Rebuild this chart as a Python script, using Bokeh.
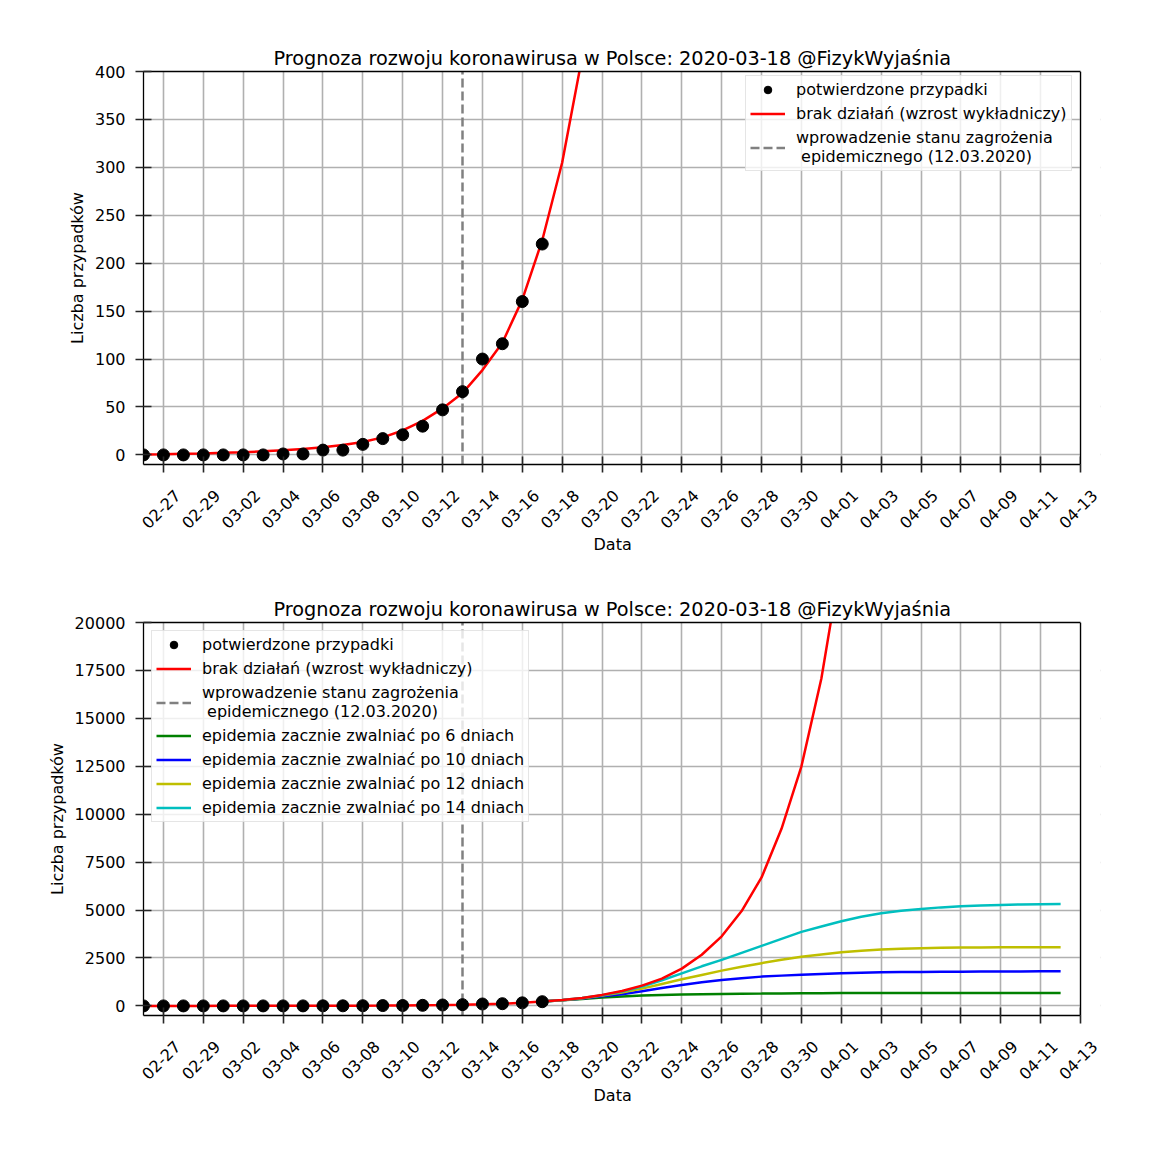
import math
import pandas as pd
from bokeh.plotting import figure
from bokeh.models import (Range1d, FixedTicker, CustomJSTickFormatter, DatetimeAxis,
                          DatetimeTickFormatter, Legend, LegendItem, Span, BoxAnnotation,
                          Title)
from bokeh.layouts import column
from bokeh.embed import file_html
from bokeh.resources import INLINE

TITLE = "Prognoza rozwoju koronawirusa w Polsce: 2020-03-18 @FizykWyjaśnia"
FONT = "DejaVu Sans"

# potwierdzone przypadki, codziennie od 02-26 do 03-17
confirmed_start, confirmed_end = "2020-02-26", "2020-03-17"
confirmed = [0, 0, 0, 0, 0, 0, 0, 1, 1, 5, 5, 11, 17, 21, 30, 47, 66, 100, 116, 160, 220]

# brak działań (wzrost wykładniczy), codziennie od 02-26 do 04-01
exp_start, exp_end = "2020-02-26", "2020-04-01"
exponential = [0.5, 0.8, 1.2, 1.6, 2.2, 2.9, 3.7, 4.8, 6.2, 8.0, 10.3, 13.5, 18.3, 25.5,
               35.5, 48.5, 64.5, 88.5, 117, 162, 224, 305, 415, 575, 780, 1060, 1424,
               1944, 2670, 3630, 4950, 6700, 9240, 12500, 17080, 23300]

# prognozy ze spowolnieniem, codziennie od 03-17 do 04-12
proj_start, proj_end = "2020-03-17", "2020-04-12"
slow_6 = [224, 290, 365, 434, 486, 538, 573, 590, 608, 625, 634, 642, 652, 660, 666,
          670, 673, 675, 677, 678, 678, 679, 679, 679, 680, 680, 680]
slow_10 = [224, 297, 385, 503, 608, 764, 937, 1094, 1233, 1354, 1441, 1528, 1580, 1630,
           1670, 1705, 1730, 1750, 1763, 1774, 1782, 1788, 1793, 1797, 1800, 1802, 1804]
slow_12 = [224, 300, 400, 538, 694, 903, 1146, 1389, 1615, 1840, 2040, 2230, 2410, 2560,
           2680, 2800, 2880, 2940, 2980, 3010, 3030, 3043, 3050, 3055, 3058, 3060, 3062]
slow_14 = [224, 303, 410, 556, 747, 1007, 1337, 1701, 2066, 2400, 2770, 3130, 3500, 3860,
           4140, 4420, 4650, 4830, 4960, 5060, 5140, 5200, 5240, 5270, 5290, 5305, 5315]

lockdown_date = "2020-03-13"
x_start, x_end = "2020-02-26", "2020-04-13"
tick_start = "2020-02-27"

top_yticks = list(range(0, 401, 50))
bottom_yticks = list(range(0, 20001, 2500))

slow_series = [
    (slow_6, "#008000", "epidemia zacznie zwalniać po 6 dniach"),
    (slow_10, "#0000ff", "epidemia zacznie zwalniać po 10 dniach"),
    (slow_12, "#bfbf00", "epidemia zacznie zwalniać po 12 dniach"),
    (slow_14, "#00bfbf", "epidemia zacznie zwalniać po 14 dniach"),
]

DAY_MS = 86400000
PX_PER_DAY = 937 / 47


def ms(d):
    return pd.Timestamp(d).timestamp() * 1000


def style_axis(ax):
    ax.major_label_text_font = FONT
    ax.major_label_text_font_size = "16px"
    ax.major_label_text_color = "black"
    ax.axis_label_text_font = FONT
    ax.axis_label_text_font_size = "16px"
    ax.axis_label_text_font_style = "normal"
    ax.axis_label_text_color = "black"
    ax.major_tick_in = 8
    ax.major_tick_out = 8
    ax.major_tick_line_width = 1.6
    ax.major_tick_line_color = "#262626"
    ax.minor_tick_line_color = None
    ax.axis_line_width = 1.3


def make_plot(y0, y1, yticks, legend_loc, with_projections, border_top, border_bottom):
    # ramka poszerzona o jeden dzień w prawo, by zmieściła się etykieta ostatniej
    # podziałki; nadmiar zakrywa biały prostokąt, a prawą krawędź rysuje Span
    x0, x1 = ms(x_start), ms(x_end)
    p = figure(x_axis_type="datetime", frame_width=round(48 * PX_PER_DAY), frame_height=393,
               min_border_left=143, min_border_right=25, min_border_top=border_top,
               min_border_bottom=border_bottom, toolbar_location=None,
               output_backend="svg",
               x_range=Range1d(x0, x1 + DAY_MS), y_range=Range1d(y0, y1))

    p.title.text = TITLE
    p.title.align = "left"
    p.title.offset = 130
    p.title.text_font = FONT
    p.title.text_font_size = "19.3px"
    p.title.text_font_style = "normal"
    p.title.text_color = "black"
    p.title.standoff = 4

    tick_dates = pd.date_range(tick_start, x_end, freq="2D")
    tick_ms = [ms(d) for d in tick_dates]
    p.xaxis.ticker = FixedTicker(ticks=tick_ms)
    p.xaxis.formatter = CustomJSTickFormatter(code="return ''")
    p.xaxis.major_label_standoff = 0
    p.xaxis.bounds = (x0, x1)
    p.yaxis.ticker = FixedTicker(ticks=yticks)
    style_axis(p.xaxis[0])
    style_axis(p.yaxis[0])
    p.yaxis.major_label_standoff = 10
    p.yaxis.axis_label = "Liczba przypadków"

    # obrócone etykiety dat: osobna oś przesunięta tak, by etykieta była pod podziałką
    shift = 0.7 * DAY_MS
    p.extra_x_ranges = {"labels": Range1d(x0 - shift, x1 + DAY_MS - shift)}
    lab_axis = DatetimeAxis(x_range_name="labels", ticker=FixedTicker(ticks=tick_ms),
                            formatter=DatetimeTickFormatter(days="%m-%d", months="%m-%d",
                                                            hours="%m-%d"))
    style_axis(lab_axis)
    lab_axis.axis_line_color = None
    lab_axis.major_tick_line_color = None
    lab_axis.major_tick_in = 0
    lab_axis.major_tick_out = 0
    lab_axis.major_label_standoff = 20
    lab_axis.major_label_orientation = math.pi / 4
    p.add_layout(lab_axis, "below")

    # podpis osi X wyśrodkowany pod właściwą ramką
    p.add_layout(Title(text="Data", align="left", offset=450, standoff=-7,
                       text_font=FONT, text_font_size="16px", text_font_style="normal",
                       text_color="black"), "below")

    # górna krawędź ramki
    top_axis = DatetimeAxis(ticker=FixedTicker(ticks=[]), bounds=(x0, x1),
                            formatter=CustomJSTickFormatter(code="return ''"))
    top_axis.axis_line_width = 1.3
    top_axis.major_tick_line_color = None
    top_axis.minor_tick_line_color = None
    top_axis.major_tick_in = 0
    top_axis.major_tick_out = 0
    top_axis.major_label_standoff = 0
    p.add_layout(top_axis, "above")

    p.grid.grid_line_color = "#b0b0b0"
    p.grid.grid_line_width = 1.6
    p.outline_line_color = None

    proj_renderers = []
    if with_projections:
        proj_dates = pd.date_range(proj_start, proj_end)
        for vals, col, lab in slow_series:
            r = p.line(proj_dates, vals, line_color=col, line_width=2.5)
            proj_renderers.append((r, lab))

    r_exp = p.line(pd.date_range(exp_start, exp_end), exponential,
                   line_color="#ff0000", line_width=2.5)

    lock = pd.Timestamp(lockdown_date)
    r_dash = p.line([lock, lock], [y0, y1], line_color="#808080", line_width=2.5,
                    line_dash="9 4")

    r_pts = p.scatter(pd.date_range(confirmed_start, confirmed_end), confirmed,
                      size=12, color="black")

    p.add_layout(BoxAnnotation(left=x1, fill_color="white", fill_alpha=1.0,
                               line_color=None))
    p.add_layout(Span(location=x1, dimension="height", line_color="black",
                      line_width=1.3))

    items = [
        LegendItem(label="potwierdzone przypadki", renderers=[r_pts]),
        LegendItem(label="brak działań (wzrost wykładniczy)", renderers=[r_exp]),
        LegendItem(label="wprowadzenie stanu zagrożenia\n epidemicznego (12.03.2020)",
                   renderers=[r_dash]),
    ] + [LegendItem(label=lab, renderers=[r]) for r, lab in proj_renderers]

    legend = Legend(items=items, location=legend_loc, margin=8, padding=4, spacing=5,
                    glyph_width=35, glyph_height=19, label_height=19, label_standoff=11,
                    label_text_font=FONT, label_text_font_size="16px",
                    label_text_color="black",
                    border_line_color="#cccccc", border_line_width=1.3,
                    background_fill_alpha=0.8)
    p.add_layout(legend)
    return p


p1 = make_plot(-10, 400, top_yticks, (602, 293), False, 71, 94)
p2 = make_plot(-500, 20000, bottom_yticks, "top_left", True, 64, 100)

layout = column(p1, p2)
open("out.html", "w").write(file_html(layout, INLINE))
